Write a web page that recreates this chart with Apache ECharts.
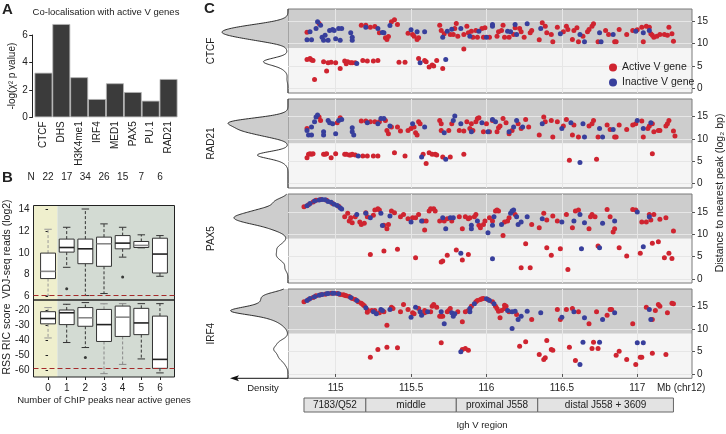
<!DOCTYPE html>
<html><head><meta charset="utf-8">
<script src="https://cdn.jsdelivr.net/npm/echarts@6/dist/echarts.min.js"></script>
<style>html,body{margin:0;padding:0;background:#fff}#c{width:726px;height:434px}</style>
</head><body><div id="c"></div>
<script>
const FONT = '"Liberation Sans", Arial, Helvetica, sans-serif';

// ---------- Panel A ----------
const aCategories = ['CTCF','DHS','H3K4me1','IRF4','MED1','PAX5','PU.1','RAD21'];
const aValues = [3.25, 6.8, 2.92, 1.33, 2.48, 1.84, 1.21, 2.79];
const aTicks = [0, 2, 4, 6];

// ---------- Panel B ----------
const bGroups = [0, 1, 2, 3, 4, 5, 6];
const bN = [22, 17, 34, 26, 15, 7, 6];
// [low whisker, q1, median, q3, high whisker]
const vdjStats = [
  [6.09, 7.64, 8.3, 9.97, 12.15],
  [8.67, 10.06, 10.48, 11.25, 12.33],
  [6.09, 9.0, 10.36, 11.25, 14.0],
  [6.27, 8.76, 10.82, 11.43, 12.64],
  [9.6, 10.36, 10.88, 11.57, 12.33],
  [10.45, 10.48, 10.67, 11.03, 11.64],
  [7.85, 8.15, 9.88, 11.33, 11.57]
];
const vdjOutliers = [[1, 6.7], [4, 7.79]];
const ricStats = [
  [-38.5, -29.2, -25.7, -21.2, -18.5],
  [-41.5, -29.7, -21.9, -20.1, -16.3],
  [-44.8, -30.8, -25.2, -18.5, -15.2],
  [-62.0, -40.8, -29.7, -19.7, -16.0],
  [-55.9, -37.5, -24.8, -17.5, -15.9],
  [-52.3, -36.3, -28.6, -19.0, -15.9],
  [-61.5, -58.5, -52.6, -24.1, -15.9]
];
const ricOutliers = [[2, -51.4]];
const vdjThreshold = 6.09;
const ricThreshold = -58.5;
const vdjTicks = [6, 8, 10, 12, 14];
const ricTicks = [-60, -50, -40, -30, -20];

// ---------- Panel C ----------
const cTicksX = [115, 115.5, 116, 116.5, 117];
const cTicksY = [0, 5, 10, 15];
const peakThreshold = 8.97;

const ctcfActive = [
[114.81,12.56],[114.89,14.48],[115.17,14.11],[115.20,14.11],[115.23,13.66],[115.26,13.81],[115.29,12.41],[115.33,11.30],[115.34,10.93],[115.35,11.59],[115.37,14.85],[115.39,15.29],[115.41,14.26],[115.48,12.33],[115.51,12.04],[115.52,11.67],[115.54,10.93],[115.55,11.30],
[115.69,14.11],[115.70,12.93],[115.72,12.19],[115.76,12.04],[115.78,12.04],[115.79,13.37],[115.80,14.48],[115.81,11.67],[115.85,12.04],[115.87,13.89],[115.88,12.41],[115.90,12.78],[115.91,11.45],[115.93,12.93],[115.94,11.45],[115.97,13.37],[115.98,11.45],[115.99,13.52],[116.02,11.45],[116.07,11.67],[116.08,12.63],[116.10,12.93],[116.11,14.11],[116.12,11.45],[116.15,11.45],[116.18,12.04],[116.19,13.52],[116.22,13.37],[116.23,12.63],[116.25,11.45],[116.29,12.41],[116.30,12.93],[116.35,10.86],[116.37,14.62],[116.39,13.89],[116.40,12.41],[116.43,12.04],[116.44,10.41],[116.47,13.66],[116.51,12.63],[116.53,13.89],[116.54,13.15],[116.57,10.93],[116.58,12.93],[116.60,13.52],[116.61,10.41],[116.64,11.67],[116.67,12.63],[116.68,13.15],[116.70,13.89],[116.71,14.40],[116.74,10.41],[116.79,12.93],[116.81,12.04],[116.85,10.41],[116.86,10.41],[116.88,13.15],[116.93,12.04],[116.97,12.93],[117.00,13.07],[117.03,13.66],[117.04,10.41],[117.06,13.89],[117.08,13.66],[117.09,12.19],[117.10,11.89],[117.11,11.45],[117.13,11.67],[117.15,12.04],[117.18,12.04],[117.20,11.89],[117.21,13.66],[117.23,12.19],[117.24,10.56],
[114.81,6.5],[114.83,6.72],[114.84,6.35],[114.85,6.27],[114.86,2.06],[114.92,5.98],[114.94,3.91],[114.95,5.76],[114.97,5.9],[115.00,5.76],[115.03,4.5],[115.06,6.13],[115.07,5.54],[115.08,5.98],[115.10,5.76],[115.11,5.76],[115.13,5.76],[115.18,6.27],[115.21,6.13],[115.25,6.13],[115.28,6.27],[115.42,5.9],[115.46,5.9],[115.55,6.72],[115.59,6.27],[115.60,5.98],[115.62,4.8],[115.64,5.24],[115.65,5.02],[115.67,6.27],[115.71,4.5],[115.85,8.8]
];
const ctcfInactive = [
[114.81,10.86],[114.83,12.63],[114.84,10.86],[114.87,13.37],[114.88,14.85],[114.90,14.11],[114.91,11.45],[114.92,10.78],[114.93,11.89],[114.95,10.78],[114.96,12.93],[114.98,13.15],[114.99,12.93],[115.00,11.08],[115.02,13.37],[115.03,10.78],[115.04,13.37],[115.10,12.41],[115.11,11.45],[115.11,10.78],[115.20,13.66],[115.28,13.37],[115.31,12.48],[115.32,12.41],[115.36,14.03],[115.50,13.07],[115.54,12.63],[115.59,12.63],
[115.71,11.45],[115.74,12.78],[115.77,13.22],[115.83,13.37],[115.89,11.67],[115.95,12.78],[116.00,11.45],[116.04,14.26],[116.04,13.89],[116.14,12.78],[116.16,12.63],[116.19,14.26],[116.20,12.04],[116.27,14.40],[116.36,13.37],[116.49,12.19],[116.62,12.04],[116.65,10.41],[116.75,12.41],[116.76,10.41],[116.84,12.04],[116.99,12.78],[117.04,12.41],[117.08,12.93],
[115.14,5.61],[115.56,5.76],[115.73,6.5]
];

const rad21Active = [
[114.81,12.34],[114.89,14.86],[114.90,14.12],[115.01,13.6],[115.03,14.71],[115.17,13.97],[115.20,13.97],[115.23,13.83],[115.26,13.83],[115.29,13.83],[115.33,14.12],[115.34,11.9],[115.35,11.16],[115.37,12.64],[115.41,12.64],[115.43,11.75],[115.48,11.9],[115.50,12.34],[115.52,12.64],[115.53,11.38],[115.54,10.86],[115.55,13.83],[115.56,13.38],
[115.69,14.12],[115.70,13.38],[115.70,11.9],[115.75,11.9],[115.77,13.38],[115.82,11.9],[115.85,11.75],[115.87,13.83],[115.89,12.34],[115.90,13.38],[115.91,11.9],[115.93,13.83],[115.94,14.57],[115.95,14.71],[115.98,11.6],[116.00,13.38],[116.02,11.6],[116.04,14.12],[116.07,11.6],[116.08,12.49],[116.09,12.86],[116.11,14.57],[116.13,13.6],[116.15,11.16],[116.17,11.9],[116.21,13.38],[116.23,12.34],[116.26,14.34],[116.28,12.64],[116.35,10.86],[116.38,14.86],[116.39,13.83],[116.43,14.12],[116.44,10.42],[116.47,13.83],[116.51,12.86],[116.53,14.34],[116.57,10.86],[116.58,13.08],[116.61,10.42],[116.68,12.86],[116.70,13.38],[116.71,14.12],[116.74,10.42],[116.80,13.08],[116.82,12.12],[116.85,10.42],[116.86,10.42],[116.88,13.08],[116.93,12.12],[116.97,13.08],[116.99,13.38],[117.03,13.97],[117.04,10.42],[117.07,12.34],[117.08,12.86],[117.10,13.38],[117.11,11.6],[117.14,11.9],[117.15,11.9],[117.19,12.86],[117.20,13.38],[117.21,14.12],[117.24,11.75],[117.25,10.64],
[114.81,5.82],[114.82,6.56],[114.83,6.71],[114.84,6.56],[114.85,6.71],[114.92,6.56],[114.93,6.56],[114.94,6.71],[114.97,5.82],[115.00,6.71],[115.06,6.56],[115.07,6.56],[115.09,6.41],[115.10,6.41],[115.11,6.56],[115.13,6.41],[115.18,6.19],[115.21,6.19],[115.25,6.19],[115.28,6.19],[115.39,6.93],[115.46,6.19],[115.58,6.56],[115.60,4.49],[115.62,6.93],[115.64,6.56],[115.66,6.56],[115.67,6.41],[115.71,5.97],[115.76,5.97],[115.85,6.56],[116.55,5.23],[116.73,5.45],[117.10,6.71]
];
const rad21Inactive = [
[114.81,11.9],[114.82,10.86],[114.84,12.64],[114.84,10.86],[114.86,13.83],[114.87,14.86],[114.88,15.31],[114.92,11.6],[114.92,10.86],[114.95,14.12],[114.96,13.6],[114.98,13.38],[115.00,11.16],[115.02,14.12],[115.04,14.34],[115.11,11.6],[115.11,12.49],[115.12,10.86],[115.21,13.6],[115.28,13.38],[115.30,14.57],[115.32,14.57],[115.36,12.86],[115.51,13.38],[115.59,12.64],
[115.72,11.38],[115.78,14.12],[115.79,15.09],[115.83,13.38],[115.90,11.6],[115.97,13.6],[116.01,11.6],[116.04,14.34],[116.06,13.83],[116.15,11.6],[116.18,12.64],[116.20,14.12],[116.24,12.64],[116.37,13.38],[116.50,12.34],[116.56,13.6],[116.64,13.38],[116.65,10.42],[116.75,12.34],[116.77,10.42],[116.84,12.12],[117.00,14.12],[117.04,12.34],[117.09,13.6],
[115.15,6.19],[115.57,5.97],[115.73,5.45],[116.62,4.71]
];

const pax5Active = [
[114.79,16.2],[114.82,16.64],[114.85,17.24],[114.87,17.62],[114.90,17.84],[114.94,17.62],[114.98,16.94],[115.02,16.27],
[115.06,13.95],[115.08,14.7],[115.09,12.97],[115.10,13.72],[115.11,12.6],[115.13,13.95],[115.16,12.75],[115.17,12.22],[115.19,12.45],[115.20,14.85],[115.21,13.95],[115.25,14.25],[115.26,15.45],[115.28,15.74],[115.29,15.45],[115.32,12.0],[115.34,11.25],[115.35,12.22],[115.37,15.22],[115.39,14.85],[115.43,13.95],[115.45,14.47],[115.48,13.5],[115.51,13.72],[115.53,13.72],[115.55,14.47],[115.58,12.97],[115.59,10.95],[115.60,12.97],[115.62,15.22],[115.63,15.74],[115.65,15.74],[115.66,15.22],[115.69,12.97],[115.72,12.97],[115.74,13.5],[115.77,12.97],[115.82,13.95],[115.84,11.25],[115.86,13.95],[115.88,13.5],[115.89,13.72],[115.92,13.95],[115.93,14.47],[115.95,12.0],[115.96,11.48],[115.98,12.22],[115.99,12.97],[116.02,13.72],[116.04,12.97],[116.06,15.22],[116.07,15.45],[116.08,15.22],[116.11,9.75],[116.12,12.75],[116.14,12.97],[116.15,13.72],[116.19,14.47],[116.30,12.22],[116.35,11.48],[116.38,14.7],[116.40,13.2],[116.44,14.1],[116.47,12.97],[116.53,14.47],[116.57,11.48],[116.59,15.22],[116.61,15.45],[116.68,11.25],[116.69,13.95],[116.70,14.47],[116.72,13.95],[116.80,15.59],[116.82,13.95],[116.84,10.5],[116.85,11.25],[116.97,15.59],[116.99,15.45],[117.03,12.75],[117.06,12.75],[117.08,14.47],[117.09,13.2],[117.11,14.47],[117.15,13.35],[117.19,13.72],[117.24,10.73],
[115.23,5.48],[115.32,6.23],[115.41,6.61],[115.53,4.73],[115.70,3.76],[115.71,3.99],[115.74,5.26],[115.80,6.46],[115.84,4.21],[115.88,5.48],[116.23,2.49],[116.26,7.88],[116.29,2.49],[116.40,6.98],[116.43,5.26],[116.49,6.76],[116.54,2.11],[116.74,7.36],[116.88,6.98],[116.93,5.11],[117.02,5.71],[117.10,7.96],[117.14,8.33],[117.18,4.73],[117.21,5.71],[117.23,4.58]
];
const pax5Inactive = [
[114.81,16.42],[114.83,16.94],[114.86,17.47],[114.89,17.69],[114.91,17.84],[114.93,17.77],[114.95,17.39],[114.97,17.17],[114.99,16.72],[115.01,16.49],[115.03,15.97],[115.04,15.67],
[115.14,14.47],[115.20,14.7],[115.23,13.72],[115.30,14.7],[115.31,11.99],[115.36,14.1],[115.50,12.75],[115.57,12.97],[115.71,13.72],[115.73,11.25],[115.76,13.72],[115.78,13.72],[115.90,12.0],[115.90,11.25],[115.94,12.97],[116.01,10.35],[116.04,12.0],[116.05,13.95],[116.10,12.22],[116.16,14.7],[116.17,15.22],[116.18,15.45],[116.20,13.95],[116.21,12.22],[116.23,12.75],[116.27,13.95],[116.37,13.5],[116.50,12.75],[116.58,12.97],[116.62,14.47],[116.65,12.6],[116.77,12.45],[116.85,12.97],[117.00,14.99],[117.08,13.95],
[115.83,5.71],[116.04,4.51],[116.63,6.76],[116.75,6.98],[117.04,7.21]
];

const irf4Active = [
[114.79,16.05],[114.82,16.57],[114.85,17.01],[114.87,17.38],[114.90,17.6],[114.93,17.75],[114.97,17.97],[115.01,17.9],[115.03,17.68],[115.05,17.6],[115.06,17.53],[115.07,17.38],[115.09,17.23],[115.11,16.79],[115.13,16.57],[115.15,16.05],[115.17,15.75],[115.18,15.46],[115.19,15.16],[115.21,14.27],[115.21,13.75],
[115.88,14.12],[115.90,15.09],[115.93,16.05],[115.94,16.34],[115.96,16.57],[115.97,16.71],[115.98,16.79],[116.01,16.57],[116.04,16.05],[116.06,15.09],[116.07,14.57],[116.08,13.97],
[115.24,14.12],[115.26,14.12],[115.29,13.6],[115.32,13.83],[115.34,10.86],[115.37,14.86],[115.38,14.57],[115.43,13.83],[115.45,15.46],[115.48,14.34],[115.51,13.6],[115.52,13.38],[115.55,14.57],[115.59,14.12],[115.59,13.6],[115.63,13.83],[115.64,15.09],[115.65,15.46],[115.67,14.86],[115.69,12.86],[115.70,12.86],[115.71,12.86],[115.74,13.83],[115.75,14.12],[115.76,14.57],[115.81,13.83],[115.84,11.6],[115.86,13.83],
[116.09,12.49],[116.10,14.12],[116.12,14.57],[116.12,15.31],[116.13,15.09],[116.15,13.83],[116.20,13.23],[116.30,12.12],[116.47,14.34],[116.49,12.12],[116.53,14.34],[116.57,14.57],[116.61,13.83],[116.68,11.16],[116.73,13.83],[116.80,13.08],[116.82,14.34],[116.83,14.34],[116.97,11.16],[117.06,14.86],[117.10,12.12],[117.12,14.12],[117.14,15.46],[117.15,15.09],[117.20,13.6],[117.23,15.75],[117.24,15.6],
[115.23,3.75],[115.28,5.45],[115.34,5.97],[115.41,5.82],[115.70,6.93],[115.84,5.45],[115.86,5.67],[115.88,5.3],[116.22,6.19],[116.26,7.16],[116.35,4.34],[116.38,3.23],[116.39,3.6],[116.40,7.45],[116.43,5.45],[116.44,5.3],[116.55,5.97],[116.59,3.01],[116.70,5.67],[116.71,7.08],[116.74,5.67],[116.86,4.19],[116.88,5.08],[116.93,3.23],[116.99,2.12],[117.02,3.75],[117.03,3.75],[117.10,4.64],[117.19,4.34]
];
const irf4Inactive = [
[114.81,16.34],[114.83,16.79],[114.86,17.16],[114.89,17.53],[114.91,17.68],[114.94,17.83],[114.95,17.9],[114.98,17.97],[114.99,17.97],[115.02,17.83],[115.10,17.01],[115.14,16.34],[115.20,14.71],
[115.89,14.57],[115.92,15.6],[116.00,16.71],[116.02,16.34],[116.05,15.6],
[115.25,13.83],[115.27,13.38],[115.30,14.34],[115.31,14.12],[115.36,14.34],[115.50,12.64],[115.53,14.86],[115.56,13.83],[115.57,13.08],[115.61,13.83],[115.70,13.83],[115.72,11.16],[115.77,13.6],[115.78,12.86],[115.79,13.38],[115.89,13.83],[116.14,14.12],[116.17,13.83],[116.17,10.12],[116.19,13.97],[116.21,12.12],[116.23,12.86],[116.27,13.97],[116.36,13.6],[116.50,12.64],[116.58,13.83],[116.65,12.49],[116.77,12.12],[116.85,13.6],[117.08,14.34],[117.09,12.12],
[115.83,4.93],[116.62,2.12],[116.64,7.08],[116.75,7.08],[117.00,6.93],[117.04,6.93]
];

const cPanelNames = ['CTCF', 'RAD21', 'PAX5', 'IRF4'];
const cActive = [ctcfActive, rad21Active, pax5Active, irf4Active];
const cInactive = [ctcfInactive, rad21Inactive, pax5Inactive, irf4Inactive];

const regionNames = ['7183/Q52', 'middle', 'proximal J558', 'distal J558 + 3609'];
const regionStart = [114.79, 115.20, 115.80, 116.34];
const regionEnd = [115.20, 115.80, 116.34, 117.24];

// ---------- layout (positions / styles) ----------
const C_XMIN = 114.684, C_XMAX = 117.363, C_YMIN = -0.95;
const cLayout = [
  {top: 9, height: 84, ymax: 17.7},
  {top: 99, height: 89, ymax: 18.9},
  {top: 194, height: 89, ymax: 19.05},
  {top: 289, height: 89.3, ymax: 18.9}
];
const C_LEFT = 288, C_WIDTH = 404;
const RED = '#cf2430', BLUE = '#383f9c';

function kde(vals, y, bw) {
  let s = 0;
  for (const v of vals) { const u = (y - v) / bw; s += Math.exp(-0.5 * u * u); }
  return s / (vals.length * bw * Math.sqrt(2 * Math.PI));
}
const KDE_BW = 0.7;
const densCurves = cActive.map((act, i) => {
  const ys = act.concat(cInactive[i]).map(d => d[1]);
  const pts = [];
  const n = 240;
  for (let k = 0; k <= n; k++) {
    const y = C_YMIN + (cLayout[i].ymax - C_YMIN) * k / n;
    pts.push([kde(ys, y, KDE_BW), y]);
  }
  pts.push([kde(ys, peakThreshold, KDE_BW), peakThreshold]);
  pts.sort((a, b) => a[1] - b[1]);
  return pts;
});
const densMax = Math.max(...densCurves.map(c => Math.max(...c.map(p => p[0]))));

function densityRenderer(i) {
  return function (params, api) {
    const curve = densCurves[i];
    const up = curve.filter(p => p[1] >= peakThreshold);
    const dn = curve.filter(p => p[1] <= peakThreshold);
    const poly = (seg) => [[0, seg[0][1]]].concat(seg).concat([[0, seg[seg.length - 1][1]]]).map(p => api.coord(p));
    return {
      type: 'group',
      children: [
        {type: 'polygon', shape: {points: poly(up)}, style: {fill: '#cdcdcd', stroke: null}},
        {type: 'polygon', shape: {points: poly(dn)}, style: {fill: '#ffffff', stroke: null}},
        {type: 'polyline', shape: {points: curve.map(p => api.coord(p))}, style: {stroke: '#1a1a1a', lineWidth: 0.9, fill: null}}
      ]
    };
  };
}

function bandRenderer(params, api) {
  const cs = params.coordSys;
  const yT = api.coord([api.value(0), api.value(1)])[1];
  return {
    type: 'group',
    children: [
      {type: 'rect', shape: {x: cs.x, y: cs.y, width: cs.width, height: yT - cs.y}, style: {fill: '#cdcdcd'}},
      {type: 'rect', shape: {x: cs.x, y: yT, width: cs.width, height: cs.y + cs.height - yT}, style: {fill: '#f5f5f5'}}
    ]
  };
}

function bBackRenderer(params, api) {
  const cs = params.coordSys;
  const xs = api.coord([api.value(0), 0])[0];
  return {
    type: 'group',
    children: [
      {type: 'rect', shape: {x: cs.x, y: cs.y, width: xs - cs.x, height: cs.height}, style: {fill: '#efefcd'}},
      {type: 'rect', shape: {x: xs, y: cs.y, width: cs.x + cs.width - xs, height: cs.height}, style: {fill: '#d3dbd3'}}
    ]
  };
}

const BOX_W = 0.8;
function boxRenderer(medColors, whiskColors) {
  return function (params, api) {
    const g = api.value(0);
    const lo = api.value(1), q1 = api.value(2), md = api.value(3), q3 = api.value(4), hi = api.value(5);
    const half = api.size([BOX_W, 0])[0] / 2;
    const cap = half / 2;
    const cx = api.coord([g, md])[0];
    const yL = api.coord([g, lo])[1], y1 = api.coord([g, q1])[1], yM = api.coord([g, md])[1];
    const y3 = api.coord([g, q3])[1], yH = api.coord([g, hi])[1];
    const wc = whiskColors[params.dataIndex], mc = medColors[params.dataIndex];
    return {
      type: 'group',
      children: [
        {type: 'line', shape: {x1: cx, y1: y3, x2: cx, y2: yH}, style: {stroke: wc, lineWidth: 1, lineDash: [3, 2]}},
        {type: 'line', shape: {x1: cx, y1: y1, x2: cx, y2: yL}, style: {stroke: wc, lineWidth: 1, lineDash: [3, 2]}},
        {type: 'line', shape: {x1: cx - cap, y1: yH, x2: cx + cap, y2: yH}, style: {stroke: wc, lineWidth: 1}},
        {type: 'line', shape: {x1: cx - cap, y1: yL, x2: cx + cap, y2: yL}, style: {stroke: wc, lineWidth: 1}},
        {type: 'rect', shape: {x: cx - half, y: y3, width: 2 * half, height: Math.max(1, y1 - y3)}, style: {fill: '#ffffff', stroke: '#333', lineWidth: 1}},
        {type: 'line', shape: {x1: cx - half, y1: yM, x2: cx + half, y2: yM}, style: {stroke: mc, lineWidth: 1.6}}
      ]
    };
  };
}

function regionRenderer(params, api) {
  const p0 = api.coord([api.value(0), 1]);
  const p1 = api.coord([api.value(1), 0]);
  return {
    type: 'group',
    children: [
      {type: 'rect', shape: {x: p0[0], y: p0[1], width: p1[0] - p0[0], height: p1[1] - p0[1]}, style: {fill: '#e3e3e3', stroke: '#666', lineWidth: 1}},
      {type: 'text', style: {text: regionNames[params.dataIndex], x: (p0[0] + p1[0]) / 2, y: (p0[1] + p1[1]) / 2, align: 'center', verticalAlign: 'middle', fontSize: 10, fontFamily: FONT, fill: '#222'}}
    ]
  };
}

const txt = {fontFamily: FONT, color: '#222', fontSize: 10};

const grids = [
  {left: 32.7, top: 35, width: 145, height: 82.3},          // 0 A axis
  {left: 34.5, top: 21.3, width: 143, height: 96},          // 1 A bars
  {left: 33.5, top: 205.5, width: 141, height: 94.5, show: true, borderColor: '#222', borderWidth: 1, backgroundColor: 'transparent'}, // 2 B top
  {left: 33.5, top: 300, width: 141, height: 77, show: true, borderColor: '#222', borderWidth: 1, backgroundColor: 'transparent'}      // 3 B bottom
];
cLayout.forEach(l => grids.push({left: C_LEFT, top: l.top, width: C_WIDTH, height: l.height, show: true, borderColor: '#7a7a7a', borderWidth: 1, backgroundColor: 'transparent'}));
cLayout.forEach(l => grids.push({left: 222, top: l.top, width: 66, height: l.height}));
grids.push({left: C_LEFT, top: 398, width: C_WIDTH, height: 14}); // 12 region

const hidden = {show: false};
const xAxes = [
  {gridIndex: 0, type: 'value', min: 0, max: 1, show: false},
  {gridIndex: 1, type: 'category', data: aCategories, axisLine: hidden, axisTick: hidden,
    axisLabel: Object.assign({rotate: 90, interval: 0, margin: 4}, txt)},
  {gridIndex: 2, type: 'value', min: -0.78, max: 6.78, show: false},
  {gridIndex: 2, type: 'value', position: 'top', min: -0.78, max: 6.78, axisLine: hidden, axisTick: hidden, splitLine: hidden,
    axisLabel: Object.assign({customValues: bGroups, margin: 23, formatter: v => String(bN[bGroups.indexOf(v)])}, txt)},
  {gridIndex: 3, type: 'value', min: -0.78, max: 6.78, axisLine: hidden, splitLine: hidden,
    axisTick: {customValues: bGroups, length: 3, lineStyle: {color: '#222'}},
    axisLabel: Object.assign({customValues: bGroups, margin: 6}, txt),
    name: 'Number of ChIP peaks near active genes', nameLocation: 'middle', nameGap: 18,
    nameTextStyle: Object.assign({}, txt, {fontSize: 9.5})}
];
cLayout.forEach((l, i) => xAxes.push({
  gridIndex: 4 + i, type: 'value', min: C_XMIN, max: C_XMAX, axisLine: hidden,
  axisTick: {show: i === 3, customValues: cTicksX, length: 3, lineStyle: {color: '#555'}},
  axisLabel: Object.assign({show: i === 3, customValues: cTicksX, margin: 5}, txt),
  splitLine: {show: true, lineStyle: {color: '#e6e6e6', width: 1}}
}));
cLayout.forEach((l, i) => xAxes.push({gridIndex: 8 + i, type: 'value', min: 0, max: densMax * 1.0, inverse: true, show: false}));
xAxes.push({gridIndex: 12, type: 'value', min: C_XMIN, max: C_XMAX, show: false});

const yAxes = [
  {gridIndex: 0, type: 'value', min: 0, max: 6, interval: 2,
    axisLine: {show: true, lineStyle: {color: '#222'}}, axisTick: {show: true, length: 3.5, lineStyle: {color: '#222'}},
    axisLabel: Object.assign({margin: 5}, txt), splitLine: hidden,
    name: '-log(χ² p value)', nameLocation: 'middle', nameGap: 15, nameRotate: 90,
    nameTextStyle: Object.assign({}, txt)},
  {gridIndex: 1, type: 'value', min: 0, max: 7, show: false},
  {gridIndex: 2, type: 'value', min: 5.68, max: 14.32, axisLine: hidden, splitLine: hidden,
    axisTick: {customValues: vdjTicks, length: 2.5, lineStyle: {color: '#222'}},
    axisLabel: Object.assign({customValues: vdjTicks, margin: 4}, txt)},
  {gridIndex: 3, type: 'value', min: -64.2, max: -13.5, axisLine: hidden, splitLine: hidden,
    axisTick: {customValues: ricTicks, length: 2.5, lineStyle: {color: '#222'}},
    axisLabel: Object.assign({customValues: ricTicks, margin: 4}, txt)}
];
cLayout.forEach((l, i) => yAxes.push({
  gridIndex: 4 + i, type: 'value', position: 'right', min: C_YMIN, max: l.ymax, axisLine: hidden,
  axisTick: {customValues: cTicksY, length: 3, lineStyle: {color: '#555'}},
  axisLabel: Object.assign({customValues: cTicksY, margin: 5}, txt),
  splitLine: {show: true, lineStyle: {color: '#e6e6e6', width: 1}}
}));
cLayout.forEach((l, i) => yAxes.push({
  gridIndex: 8 + i, type: 'value', min: C_YMIN, max: l.ymax, axisLine: hidden, axisTick: hidden,
  axisLabel: hidden, splitLine: hidden, name: cPanelNames[i], nameLocation: 'middle', nameGap: 6, nameRotate: 90,
  nameTextStyle: Object.assign({}, txt)
}));
yAxes.push({gridIndex: 12, type: 'value', min: 0, max: 1, show: false});

const series = [
  {type: 'bar', xAxisIndex: 1, yAxisIndex: 1, data: aValues, barWidth: '100%',
    itemStyle: {color: '#3b3b3b', borderColor: '#b4b4b4', borderWidth: 0.8}, silent: true},
  {type: 'custom', xAxisIndex: 2, yAxisIndex: 2, z: -1, renderItem: bBackRenderer, data: [[0.5, 10]], silent: true},
  {type: 'custom', xAxisIndex: 4, yAxisIndex: 3, z: -1, renderItem: bBackRenderer, data: [[0.5, -40]], silent: true},
  {type: 'custom', xAxisIndex: 2, yAxisIndex: 2, renderItem: boxRenderer(['#888','#222','#222','#888','#222','#888','#222'], ['#999','#333','#333','#333','#333','#333','#333']),
    data: vdjStats.map((s, i) => [bGroups[i]].concat(s)), silent: true},
  {type: 'custom', xAxisIndex: 4, yAxisIndex: 3, renderItem: boxRenderer(['#222','#222','#888','#222','#888','#222','#222'], ['#999','#333','#333','#888','#888','#333','#333']),
    data: ricStats.map((s, i) => [bGroups[i]].concat(s)), silent: true},
  {type: 'scatter', xAxisIndex: 2, yAxisIndex: 2, data: vdjOutliers, symbolSize: 3, itemStyle: {color: '#111'}, silent: true,
    markLine: {silent: true, symbol: 'none', label: {show: false}, lineStyle: {color: '#a52a2a', type: [5, 3], width: 1}, data: [{yAxis: vdjThreshold}]}},
  {type: 'scatter', xAxisIndex: 4, yAxisIndex: 3, data: ricOutliers, symbolSize: 3, itemStyle: {color: '#111'}, silent: true,
    markLine: {silent: true, symbol: 'none', label: {show: false}, lineStyle: {color: '#a52a2a', type: [5, 3], width: 1}, data: [{yAxis: ricThreshold}]}}
];
cLayout.forEach((l, i) => {
  series.push({type: 'custom', xAxisIndex: 5 + i, yAxisIndex: 4 + i, z: -1, renderItem: bandRenderer, data: [[cTicksX[0], peakThreshold]], silent: true});
  series.push({type: 'scatter', name: 'Active V gene', xAxisIndex: 5 + i, yAxisIndex: 4 + i, data: cActive[i], symbolSize: 5, itemStyle: {color: RED, opacity: 1}, silent: true});
  series.push({type: 'scatter', name: 'Inactive V gene', xAxisIndex: 5 + i, yAxisIndex: 4 + i, data: cInactive[i], symbolSize: 5, itemStyle: {color: BLUE, opacity: 1}, silent: true});
  series.push({type: 'custom', xAxisIndex: 9 + i, yAxisIndex: 8 + i, renderItem: densityRenderer(i), data: [[0, 0]], silent: true});
});
series.push({type: 'custom', xAxisIndex: 13, yAxisIndex: 12, renderItem: regionRenderer,
  data: regionStart.map((s, i) => [s, regionEnd[i]]), silent: true});

const T = (x, y, text, extra) => ({type: 'text', x, y, silent: true,
  style: Object.assign({text, fill: '#222', font: '10px ' + FONT, align: 'center', verticalAlign: 'middle'}, extra || {})});
const TR = (x, y, text, size) => ({type: 'text', x, y, rotation: Math.PI / 2, silent: true,
  style: {text, fill: '#222', font: size + 'px ' + FONT, align: 'center', verticalAlign: 'middle'}});

const option = {
  animation: false,
  textStyle: {fontFamily: FONT},
  grid: grids, xAxis: xAxes, yAxis: yAxes, series,
  legend: {
    data: ['Active V gene', 'Inactive V gene'], orient: 'vertical', left: 609, top: 62,
    itemWidth: 8, itemHeight: 8, itemGap: 4, icon: 'circle', selectedMode: false,
    textStyle: Object.assign({}, txt, {fontSize: 10.5}), padding: 0
  },
  graphic: [
    T(2, 10, 'A', {font: 'bold 15px ' + FONT, align: 'left'}),
    T(2, 178, 'B', {font: 'bold 15px ' + FONT, align: 'left'}),
    T(204, 9, 'C', {font: 'bold 15px ' + FONT, align: 'left'}),
    T(106, 12, 'Co-localisation with active V genes', {font: '9.5px ' + FONT}),
    T(31, 177, 'N'),
    T(263, 388, 'Density', {font: '9.5px ' + FONT}),
    T(657, 388, 'Mb (chr12)', {align: 'left'}),
    T(482, 425, 'Igh V region', {font: '9.5px ' + FONT}),
    TR(7.5, 249, 'VDJ-seq reads (log2)', 10.5),
    TR(7.5, 339, 'RSS RIC score', 10.5),
    TR(720, 193, 'Distance to nearest peak (log₂ bp)', 10.5),
    {type: 'line', silent: true, shape: {x1: 288, y1: 378.3, x2: 236, y2: 378.3}, style: {stroke: '#111', lineWidth: 1}},
    {type: 'polygon', silent: true, shape: {points: [[230, 378.3], [239, 375.3], [237, 378.3], [239, 381.3]]}, style: {fill: '#111'}}
  ]
};

const chart = echarts.init(document.getElementById('c'), null, {renderer: 'canvas', width: 726, height: 434});
chart.setOption(option);
</script>
</body></html>
